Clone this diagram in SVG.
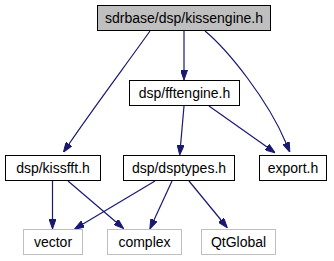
<svg xmlns="http://www.w3.org/2000/svg" width="334" height="261" viewBox="0 0 334 261">
  <style>
    .node rect { fill: #ffffff; stroke: #000000; stroke-width: 1; }
    .node.root rect { fill: #bfbfbf; }
    .node.ext rect { stroke: #bfbfbf; }
    .node text { font-family: "Liberation Sans", Arial, sans-serif; font-size: 14px; fill: #000000; text-anchor: middle; }
    .edge { fill: none; stroke: #191970; stroke-width: 1.2; marker-end: url(#arrow); }
  </style>
  <defs>
    <marker id="arrow" viewBox="0 0 10 7" refX="0" refY="3.5" markerWidth="10" markerHeight="7" markerUnits="userSpaceOnUse" orient="auto">
      <path d="M0,0 L10,3.5 L0,7 z" fill="#191970" stroke="#191970" stroke-width="1"/>
    </marker>
  </defs>
  <rect width="334" height="261" fill="#ffffff"/>

  <g id="edges">
    <path class="edge" d="M150,31 C128,62 92,110 69,144"/>
    <path class="edge" d="M184,31 L184,70"/>
    <path class="edge" d="M205,31 C228,50 268,100 286,143"/>
    <path class="edge" d="M184,106 L180.6,145"/>
    <path class="edge" d="M209,106 L267,147"/>
    <path class="edge" d="M52.5,181 L52.5,219"/>
    <path class="edge" d="M68,181 L116,222"/>
    <path class="edge" d="M155,181 L83,224"/>
    <path class="edge" d="M172,181 L154,220"/>
    <path class="edge" d="M189,181 L221,220"/>
  </g>

  <g id="kissengine" class="node root">
    <rect x="97.5" y="5.5" width="173" height="25"/>
    <text x="184" y="23">sdrbase/dsp/kissengine.h</text>
  </g>
  <g id="fftengine" class="node">
    <rect x="129.5" y="80.5" width="110" height="25"/>
    <text x="184.5" y="98">dsp/fftengine.h</text>
  </g>
  <g id="kissfft" class="node">
    <rect x="5.5" y="155.5" width="95" height="25"/>
    <text x="53" y="173">dsp/kissfft.h</text>
  </g>
  <g id="dsptypes" class="node">
    <rect x="123.5" y="155.5" width="111" height="25"/>
    <text x="179" y="173">dsp/dsptypes.h</text>
  </g>
  <g id="export" class="node">
    <rect x="259.5" y="155.5" width="67" height="25"/>
    <text x="293" y="173">export.h</text>
  </g>
  <g id="vector" class="node ext">
    <rect x="23.5" y="229.5" width="59" height="25"/>
    <text x="53" y="247">vector</text>
  </g>
  <g id="complex" class="node ext">
    <rect x="107.5" y="229.5" width="74" height="25"/>
    <text x="144.5" y="247">complex</text>
  </g>
  <g id="qtglobal" class="node ext">
    <rect x="201.5" y="229.5" width="74" height="25"/>
    <text x="238.5" y="247">QtGlobal</text>
  </g>
</svg>
